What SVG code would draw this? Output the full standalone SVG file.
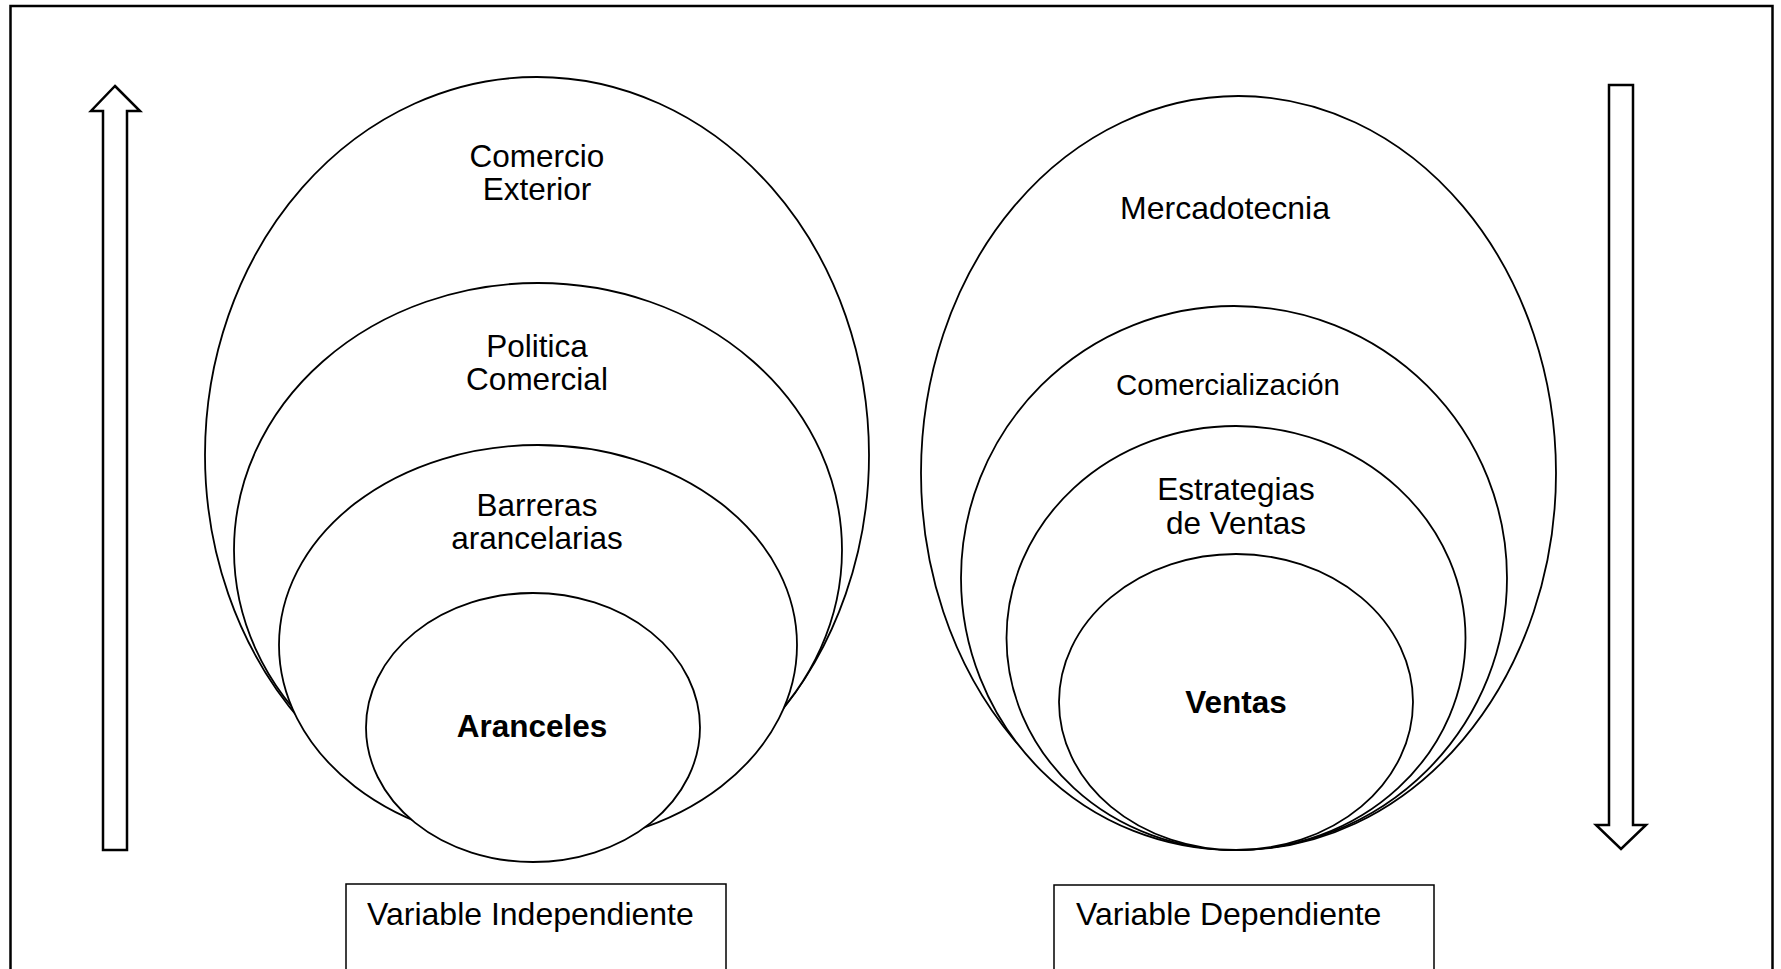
<svg xmlns="http://www.w3.org/2000/svg" width="1781" height="969" viewBox="0 0 1781 969">
  <style>
    .ring { fill: #ffffff; stroke: #000000; stroke-width: 1.8; }
    .lbl { font-family: "Liberation Sans", Arial, sans-serif; font-size: 31.5px; fill: #000000; text-anchor: middle; }
    .bold { font-weight: bold; }
    .cap { font-family: "Liberation Sans", Arial, sans-serif; font-size: 32px; fill: #000000; }
    .box { fill: #ffffff; stroke: #000000; stroke-width: 1.5; }
    .blk { fill: #ffffff; stroke: #000000; stroke-width: 2.5; stroke-linejoin: miter; }
  </style>

  <rect x="0" y="0" width="1781" height="969" fill="#ffffff"/>

  <!-- page frame -->
  <rect id="frame" x="10.5" y="6" width="1762" height="1000" fill="none" stroke="#000000" stroke-width="2.5"/>

  <!-- block arrows at the sides -->
  <g id="arrows">
    <polygon class="blk" points="115,86 140,111 127,111 127,850 103,850 103,111 91,111"/>
    <polygon class="blk" points="1609,85 1633,85 1633,825 1646,825 1621,849 1596,825 1609,825"/>
  </g>

  <!-- independent variable: nested levels -->
  <g id="comercio-exterior">
    <ellipse class="ring" cx="537" cy="455" rx="332" ry="378"/>
    <text class="lbl" x="537" y="167">Comercio</text>
    <text class="lbl" x="537" y="200">Exterior</text>
  </g>
  <g id="politica-comercial">
    <ellipse class="ring" cx="538" cy="550" rx="304" ry="267"/>
    <text class="lbl" x="537" y="357">Politica</text>
    <text class="lbl" x="537" y="390">Comercial</text>
  </g>
  <g id="barreras-arancelarias">
    <ellipse class="ring" cx="538" cy="645" rx="259" ry="200"/>
    <text class="lbl" x="537" y="516">Barreras</text>
    <text class="lbl" x="537" y="549">arancelarias</text>
  </g>
  <g id="aranceles">
    <ellipse class="ring" cx="533" cy="727.5" rx="167" ry="134.5"/>
    <text class="lbl bold" x="532" y="737">Aranceles</text>
  </g>

  <!-- dependent variable: nested levels -->
  <g id="mercadotecnia">
    <ellipse class="ring" cx="1238.5" cy="473" rx="317.5" ry="377"/>
    <text class="lbl" x="1225" y="219" style="font-size:32px">Mercadotecnia</text>
  </g>
  <g id="comercializacion">
    <ellipse class="ring" cx="1234" cy="578" rx="273" ry="272"/>
    <text class="lbl" x="1228" y="395" style="font-size:29.4px">Comercialización</text>
  </g>
  <g id="estrategias-de-ventas">
    <ellipse class="ring" cx="1236" cy="638" rx="229.5" ry="212"/>
    <text class="lbl" x="1236" y="500">Estrategias</text>
    <text class="lbl" x="1236" y="534">de Ventas</text>
  </g>
  <g id="ventas">
    <ellipse class="ring" cx="1236" cy="702" rx="177" ry="148"/>
    <text class="lbl bold" x="1236" y="713">Ventas</text>
  </g>

  <!-- caption boxes -->
  <g id="variable-independiente">
    <rect class="box" x="346" y="884" width="380" height="120"/>
    <text class="cap" x="367" y="925">Variable Independiente</text>
  </g>
  <g id="variable-dependiente">
    <rect class="box" x="1054" y="885" width="380" height="120"/>
    <text class="cap" x="1076" y="925">Variable Dependiente</text>
  </g>
</svg>
